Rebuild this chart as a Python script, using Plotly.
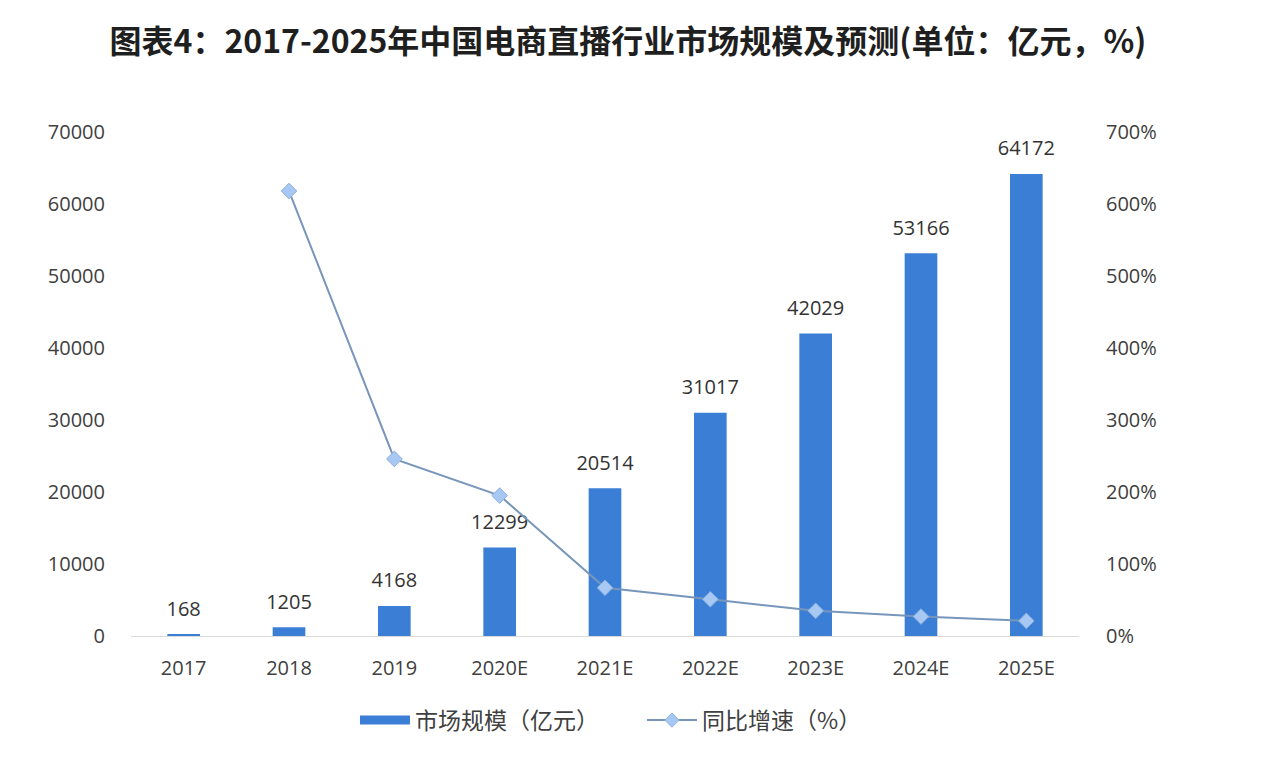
import plotly.graph_objects as go

years = ["2017", "2018", "2019", "2020E", "2021E", "2022E", "2023E", "2024E", "2025E"]
market_size = [168, 1205, 4168, 12299, 20514, 31017, 42029, 53166, 64172]
growth_years = ["2018", "2019", "2020E", "2021E", "2022E", "2023E", "2024E", "2025E"]
growth_pct = [618, 246, 195, 67, 51, 35, 27, 21]

left_ticks = [0, 10000, 20000, 30000, 40000, 50000, 60000, 70000]
right_ticks = [0, 100, 200, 300, 400, 500, 600, 700]

cjk = "Noto Sans CJK SC, sans-serif"
latin = "Open Sans, Noto Sans CJK SC, sans-serif"
bar_color = "#3a7fd5"
line_color = "#7896bb"

fig = go.Figure()
fig.add_trace(go.Bar(
    x=years, y=market_size, name="市场规模（亿元）",
    marker=dict(color=bar_color, line=dict(width=0)),
    width=0.31, showlegend=False,
))
# value labels above bars
fig.add_trace(go.Scatter(
    x=years, y=market_size, mode="markers+text",
    marker=dict(size=20, opacity=0),
    text=[str(v) for v in market_size], textposition="top center",
    textfont=dict(size=20, color="#333333", family=latin),
    showlegend=False, hoverinfo="skip", cliponaxis=False,
))
fig.add_trace(go.Scatter(
    x=growth_years, y=growth_pct, name="同比增速（%）", yaxis="y2",
    mode="lines+markers", showlegend=False,
    line=dict(color=line_color, width=2),
    marker=dict(symbol="diamond", size=12, color="#a6c8f2", line=dict(color="#8cb0df", width=1)),
))
# legend entries
fig.add_trace(go.Scatter(
    x=[None], y=[None], name="市场规模（亿元）", mode="lines",
    line=dict(color=bar_color, width=9),
))
fig.add_trace(go.Scatter(
    x=[None], y=[None], name="同比增速（%）", mode="lines+markers",
    line=dict(color=line_color, width=2),
    marker=dict(symbol="diamond", size=11, color="#a6c8f2", line=dict(color="#8cb0df", width=1)),
))

fig.update_layout(
    width=1266, height=760,
    margin=dict(l=123, r=195, t=124, b=132),
    paper_bgcolor="white", plot_bgcolor="white",
    font=dict(family=latin, color="#404040", size=20),
    title=dict(text="<b>图表4：2017-2025年中国电商直播行业市场规模及预测(单位：亿元，%)</b>",
               x=0.4897, xanchor="center", y=1 - 34 / 760, yanchor="middle",
               font=dict(size=32, color="#1f1f1f", family=cjk)),
    showlegend=True,
    legend=dict(orientation="h", x=0.539, xanchor="center", y=-0.167, yanchor="middle",
                font=dict(size=23, color="#404040", family=cjk), itemwidth=50,
                entrywidth=222, entrywidthmode="pixels", tracegroupgap=0),
    xaxis=dict(type="category", range=[-0.5, len(years) - 0.5], showgrid=False,
               showline=True, linecolor="#d9d9d9",
               linewidth=1, ticks="", tickfont=dict(size=20, color="#404040"),
               ticklabelstandoff=14),
    yaxis=dict(range=[0, 70000], tickvals=left_ticks, ticktext=[str(v) for v in left_ticks],
               showgrid=False, zeroline=False, showline=False,
               tickfont=dict(size=20, color="#404040"), ticklabelstandoff=25),
    yaxis2=dict(range=[0, 700], tickvals=right_ticks, ticktext=[f"{v}%" for v in right_ticks],
                overlaying="y", side="right", showgrid=False, zeroline=False, showline=False,
                tickfont=dict(size=20, color="#404040"), ticklabelstandoff=26),
)

fig.write_html("out.html")
